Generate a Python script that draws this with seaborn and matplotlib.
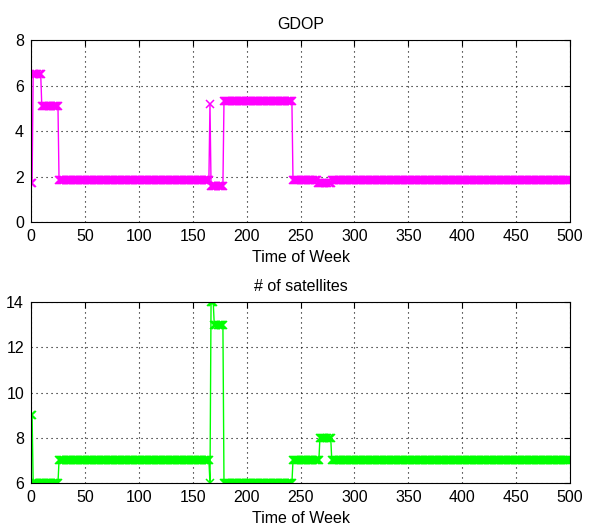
import numpy as np
import pandas as pd
import matplotlib
matplotlib.use("Agg")
import matplotlib.pyplot as plt
import seaborn as sns

### Dados (níveis e duração de cada trecho, em épocas)
gdop_niveis = [1.7, 6.5, 5.1, 1.85, 5.2, 1.6, 5.3, 1.85, 1.7, 1.85]
gdop_trechos = [2, 8, 16, 140, 1, 12, 64, 23, 13, 222]
sat_niveis = [9, 6, 7, 6, 14, 13, 6, 7, 8, 7]
sat_trechos = [2, 24, 140, 1, 3, 9, 64, 25, 11, 222]
tempo = np.arange(0, 501)

dados = pd.DataFrame()
dados["Time of Week"] = tempo
dados["GDOP"] = np.repeat(gdop_niveis, gdop_trechos)
dados["Satelites"] = np.repeat(sat_niveis, sat_trechos)

### Estilo
sns.set_style("white")
plt.rcParams["font.family"] = ["Liberation Sans", "DejaVu Sans"]
plt.rcParams["font.size"] = 11.5
plt.rcParams["text.color"] = "black"
plt.rcParams["axes.labelcolor"] = "black"
plt.rcParams["xtick.color"] = "black"
plt.rcParams["ytick.color"] = "black"

fig = plt.figure(figsize=(5.93, 5.28), dpi=100)
ax1 = fig.add_axes([0.0523, 0.5795, 0.909, 0.3447])
ax2 = fig.add_axes([0.0523, 0.0852, 0.909, 0.3428])

sns.lineplot(data=dados, x="Time of Week", y="GDOP", ax=ax1, color="#ff00ff",
             linewidth=1, marker="x", markersize=5.5, markeredgewidth=1.1,
             markeredgecolor="#ff00ff")
sns.lineplot(data=dados, x="Time of Week", y="Satelites", ax=ax2, color="#00ff00",
             linewidth=1, marker="x", markersize=5.5, markeredgewidth=1.1,
             markeredgecolor="#00ff00")

ax1.set_title("GDOP", fontsize=11.5, pad=8, color="black")
ax2.set_title("# of satellites", fontsize=11.5, pad=8, color="black")
ax1.set_ylim(0, 8)
ax1.set_yticks([0, 2, 4, 6, 8])
ax2.set_ylim(6, 14)
ax2.set_yticks([6, 8, 10, 12, 14])

for ax in (ax1, ax2):
    ax.set_xlim(0, 500)
    ax.set_xticks(range(0, 501, 50))
    ax.set_xlabel("Time of Week", fontsize=11.5, color="black")
    ax.set_ylabel("")
    ax.grid(True, linestyle=(0, (1, 3.5)), color="black", linewidth=0.8)
    ax.tick_params(direction="in", top=True, right=True, length=4,
                   width=0.8, pad=5, labelsize=11.5, colors="black")
    for s in ax.spines.values():
        s.set_color("black")
        s.set_linewidth(0.8)

fig.savefig("out.png", dpi=100)
